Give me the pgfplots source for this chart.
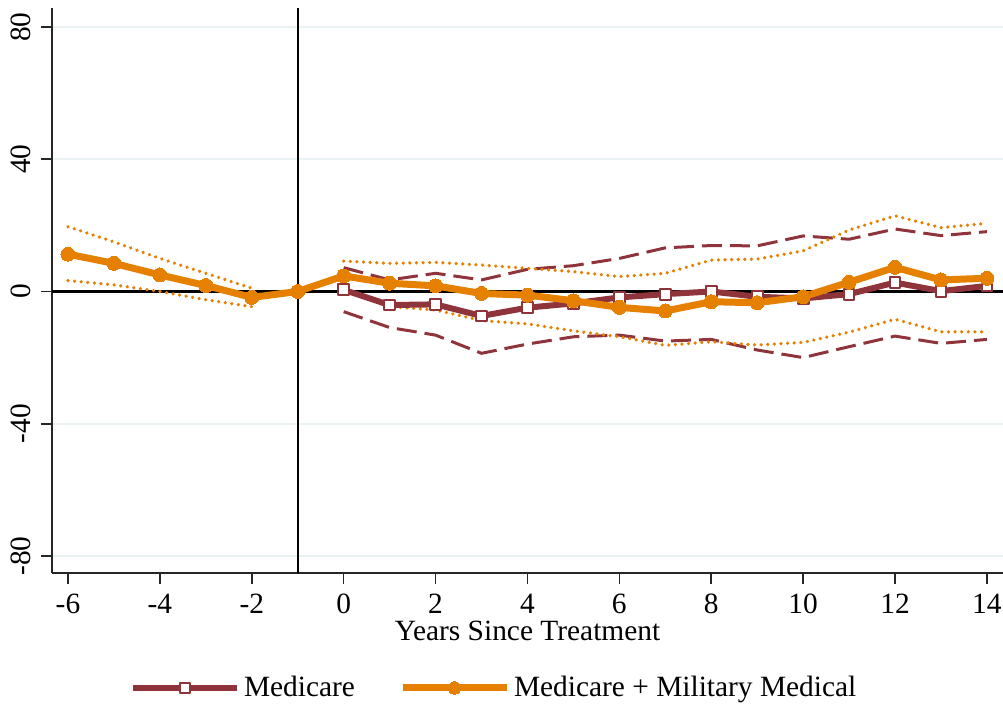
\documentclass[border=0pt]{standalone}
\usepackage{fontspec}
\setmainfont{Liberation Serif}
\usepackage{pgfplots}
\pgfplotsset{compat=1.18}
\usetikzlibrary{calc}
\definecolor{mar}{RGB}{144,52,60}
\definecolor{org}{RGB}{229,128,0}
\definecolor{grd}{RGB}{234,242,243}
\newcommand{\fs}{\fontsize{14.7}{17}\selectfont}
\begin{document}
\begin{tikzpicture}
\begin{axis}[name=ax, scale only axis, width=475.5pt, height=282.5pt,
 xmin=-6.348, xmax=14.35, ymin=-85.15, ymax=85.75,
 axis lines*=left,
 axis line style={line width=0.8pt, color=black!85},
 xtick={-6,-4,...,14}, ytick={-80,-40,0,40,80},
 tick style={line width=0.8pt, color=black!85},
 tick align=outside, major tick length=5.5pt,
 ymajorgrids, grid style={grd, line width=1pt},
 /pgf/number format/assume math mode=true,
 tick label style={font=\fs},
 yticklabel style={rotate=90, anchor=south, inner sep=0pt, yshift=5pt},
 xticklabel style={inner sep=0pt, yshift=-5pt},
 xlabel={Years Since Treatment},
 xlabel style={font=\fs, inner sep=0pt, yshift=-3pt},
 legend style={at={(0.466,-0.2035)}, anchor=center, draw=none, fill=none,
   legend columns=2, font=\fs,
   /tikz/every even column/.append style={column sep=20pt}},
 legend image code/.code={
   \draw[#1] (0pt,0pt) -- (52pt,0pt);
   \draw[#1, only marks, every mark/.append style={scale=0.9}] plot coordinates {(26pt,0pt)};
 },
 clip=false,
]
% reference lines
\addplot[black, line width=1.2pt, forget plot] coordinates {(-6.348,0) (14.35,0)};
\addplot[black, line width=1pt, forget plot] coordinates {(-1,-85.15) (-1,85.75)};
% Medicare CI (dashed)
\addplot[mar, line width=1.5pt, dash pattern=on 10pt off 4pt, forget plot] coordinates {
(0,7.2) (1,3.5) (2,5.5) (3,3.5) (4,6.7) (5,7.8) (6,10.0) (7,13.2) (8,13.9) (9,13.8) (10,16.8) (11,15.8) (12,18.9) (13,16.9) (14,18.1)};
\addplot[mar, line width=1.5pt, dash pattern=on 10pt off 4pt, forget plot] coordinates {
(0,-6.1) (1,-10.9) (2,-13.2) (3,-18.7) (4,-15.9) (5,-13.7) (6,-13.2) (7,-15.0) (8,-14.5) (9,-17.7) (10,-20.0) (11,-16.7) (12,-13.5) (13,-15.7) (14,-14.5)};
% Medicare + Military CI (dotted)
\addplot[org, line width=1.8pt, line cap=round, dash pattern=on 0.01pt off 3.3pt, forget plot] coordinates {
(-6,19.6) (-5,15.0) (-4,10.0) (-3,5.5) (-2,1.0)};
\addplot[org, line width=1.8pt, line cap=round, dash pattern=on 0.01pt off 3.3pt, forget plot] coordinates {
(-6,3.3) (-5,2.0) (-4,0.0) (-3,-2.5) (-2,-4.6)};
\addplot[org, line width=1.8pt, line cap=round, dash pattern=on 0.01pt off 3.3pt, forget plot] coordinates {
(0,9.2) (1,8.5) (2,8.8) (3,8.0) (4,7.0) (5,6.0) (6,4.5) (7,5.5) (8,9.5) (9,9.8) (10,12.3) (11,18.6) (12,22.9) (13,19.3) (14,20.6)};
\addplot[org, line width=1.8pt, line cap=round, dash pattern=on 0.01pt off 3.3pt, forget plot] coordinates {
(0,0.3) (1,-4.6) (2,-5.6) (3,-8.8) (4,-9.8) (5,-11.9) (6,-13.7) (7,-16.3) (8,-15.2) (9,-16.2) (10,-15.4) (11,-12.3) (12,-8.4) (13,-12.2) (14,-12.2)};
% Medicare
\addplot[mar, line width=3pt, line join=round, mark=square*, mark size=2.7pt,
  mark options={solid, fill=white, draw=mar, line width=1pt}] coordinates {
(0,0.5) (1,-4.1) (2,-3.9) (3,-7.4) (4,-4.9) (5,-3.6) (6,-1.8) (7,-0.8) (8,0.0) (9,-1.6) (10,-2.1) (11,-0.8) (12,2.7) (13,0.1) (14,1.7)};
\addlegendentry{Medicare}
% Medicare + Military Medical
\addplot[org, line width=3.5pt, line join=round, mark=*, mark size=3.5pt,
  mark options={solid, fill=org, draw=org, line width=0pt}] coordinates {
(-6,11.3) (-5,8.5) (-4,5.0) (-3,1.8) (-2,-1.8) (-1,0.0) (0,4.7) (1,2.5) (2,1.7) (3,-0.6) (4,-1.1) (5,-2.8) (6,-4.8) (7,-5.9) (8,-3.1) (9,-3.4) (10,-1.6) (11,2.8) (12,7.3) (13,3.5) (14,4.0)};
\addlegendentry{Medicare + Military Medical}
\end{axis}
\pgfresetboundingbox
\path ($(ax.south west)+(-26pt,-65.5pt)$) rectangle ($(ax.north east)+(0pt,4pt)$);
\end{tikzpicture}
\end{document}
